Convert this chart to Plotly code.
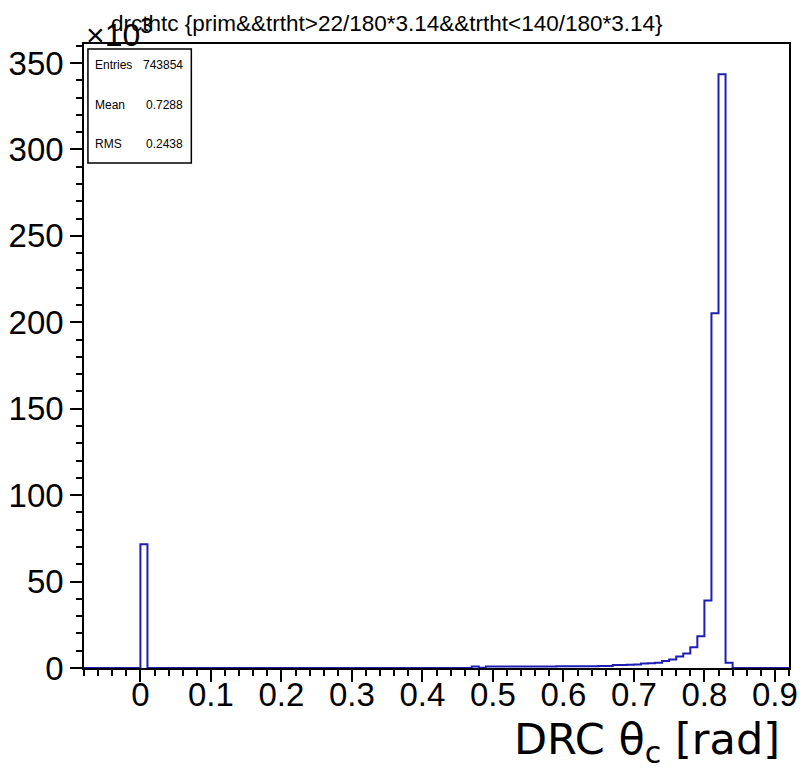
import plotly.graph_objects as go

# ---- data (counts in units of 10^3), 100 bins of width 0.01 from -0.08 to 0.92 ----
x_low = -0.08
bin_width = 0.01
counts = [
    0, 0, 0, 0, 0, 0, 0, 0,            # -0.08 .. 0.00
    71.6,                              # 0.00 .. 0.01
    0, 0, 0, 0, 0, 0, 0, 0, 0, 0,      # 0.01 .. 0.11
    0, 0, 0, 0, 0, 0, 0, 0, 0, 0,      # 0.11 .. 0.21
    0, 0, 0, 0, 0, 0, 0, 0, 0, 0,      # 0.21 .. 0.31
    0, 0, 0, 0, 0, 0, 0, 0, 0, 0,      # 0.31 .. 0.41
    0, 0, 0, 0, 0, 0,                  # 0.41 .. 0.47
    0.9, 0.1,                          # 0.47 .. 0.49
    0.8, 0.8, 0.8, 0.8, 0.9, 0.9, 0.9, 0.9, 0.9,   # 0.49 .. 0.58
    0.9, 1.0, 1.0, 1.0, 1.0, 1.0, 1.0, 1.1, 1.1,   # 0.58 .. 0.67
    1.7, 1.8, 1.9, 2.0,                # 0.67 .. 0.71
    2.6, 2.8, 3.0,                     # 0.71 .. 0.74
    4.0, 4.9, 6.7, 8.4, 12.0, 18.4,    # 0.74 .. 0.80
    39.0, 205.3, 343.5, 3.0,           # 0.80 .. 0.84
    0, 0, 0, 0, 0, 0, 0, 0,            # 0.84 .. 0.92
]
x_ticks = [0, 0.1, 0.2, 0.3, 0.4, 0.5, 0.6, 0.7, 0.8, 0.9]
x_tick_labels = ["0", "0.1", "0.2", "0.3", "0.4", "0.5", "0.6", "0.7", "0.8", "0.9"]
y_ticks = [0, 50, 100, 150, 200, 250, 300, 350]
y_tick_labels = ["0", "50", "100", "150", "200", "250", "300", "350"]
stats_names = ["Entries", "Mean", "RMS"]
stats_values = ["743854", "0.7288", "0.2438"]
title_text = "drcthtc {prim&&trtht>22/180*3.14&&trtht<140/180*3.14}"

edges = [x_low + bin_width * i for i in range(len(counts) + 1)]
step_y = counts + [counts[-1]]

W, H = 807, 772
L, R, T, B = 82, 9, 44, 104
pw, ph = W - L - R, H - T - B


def px(x):
    return (x - L) / pw


def py(y):
    return (H - B - y) / ph


fig = go.Figure()
fig.add_trace(go.Scatter(
    x=edges, y=step_y, mode="lines", line=dict(shape="hv", color="#1e1eb4", width=2),
    hoverinfo="skip", showlegend=False,
))

axis_common = dict(
    showline=True, linecolor="black", linewidth=1.5, mirror=True,
    ticks="outside", tickcolor="black", tickwidth=1.5,
    showgrid=False, zeroline=False,
    tickfont=dict(family="Liberation Sans", size=33, color="black"),
)

fig.update_layout(
    width=W, height=H,
    margin=dict(l=L, r=R, t=T, b=B),
    paper_bgcolor="white", plot_bgcolor="white",
    xaxis=dict(
        range=[edges[0], edges[-1]], tickmode="array", tickvals=x_ticks, ticktext=x_tick_labels,
        ticklen=12, ticklabelstandoff=-15,
        minor=dict(dtick=0.02, tick0=0, ticklen=6, ticks="outside", tickcolor="black", tickwidth=1.5),
        **axis_common,
    ),
    yaxis=dict(
        range=[0, 361], tickmode="array", tickvals=y_ticks, ticktext=y_tick_labels,
        ticklen=12, ticklabelstandoff=0,
        minor=dict(dtick=10, tick0=0, ticklen=6, ticks="outside", tickcolor="black", tickwidth=1.5),
        **axis_common,
    ),
)

annotations = []
# title
annotations.append(dict(
    x=px(390), y=py(24), xref="paper", yref="paper", text=title_text, showarrow=False,
    xanchor="center", yanchor="middle", font=dict(family="Liberation Sans", size=22.5, color="black"),
))
# exponent
annotations.append(dict(
    x=px(82), y=py(33), xref="paper", yref="paper", text="×10<sup>3</sup>", showarrow=False,
    xanchor="left", yanchor="middle", font=dict(family="Liberation Sans", size=32, color="black"),
))
# x-axis title
annotations.append(dict(
    x=px(791), y=py(742), xref="paper", yref="paper", text="DRC θ<sub>c</sub> [rad]", showarrow=False,
    xanchor="right", yanchor="middle", font=dict(family="DejaVu Sans", size=43, color="black"),
))
# stats box text
stat_y = [65, 105, 144]
for name, val, yy in zip(stats_names, stats_values, stat_y):
    annotations.append(dict(
        x=px(91), y=py(yy), xref="paper", yref="paper", text=name, showarrow=False,
        xanchor="left", yanchor="middle", font=dict(family="Liberation Sans", size=12, color="black"),
    ))
    annotations.append(dict(
        x=px(185), y=py(yy), xref="paper", yref="paper", text=val, showarrow=False,
        xanchor="right", yanchor="middle", font=dict(family="Liberation Sans", size=12, color="black"),
    ))
fig.update_layout(annotations=annotations)

fig.add_shape(type="rect", xref="paper", yref="paper",
              x0=px(86), x1=px(191), y0=py(163), y1=py(49),
              line=dict(color="black", width=1.5), fillcolor="white", layer="above")

fig.write_html("out.html")
